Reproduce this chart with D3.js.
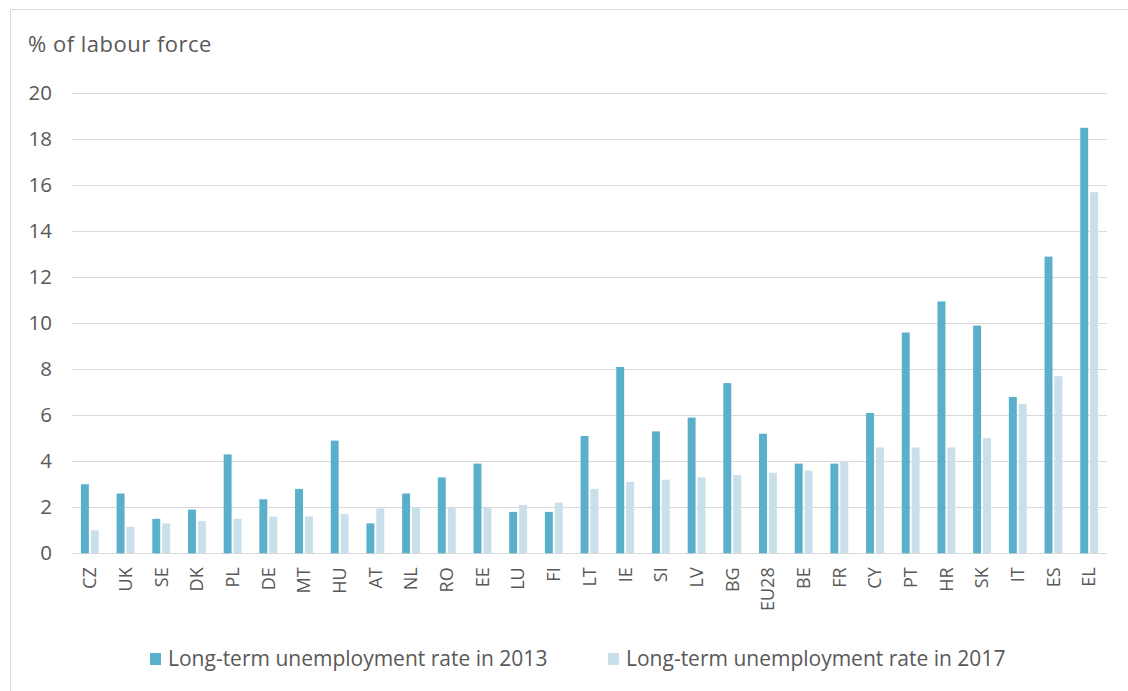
<!DOCTYPE html>
<html>
<head>
<meta charset="utf-8">
<script src="https://cdn.jsdelivr.net/npm/d3@7"></script>
<style>
html,body{margin:0;padding:0;background:#fff;}
svg{display:block;}
text{font-family:"Open Sans","Noto Sans",sans-serif;fill:#595959;}
</style>
</head>
<body>
<svg id="chart" width="1128" height="691"></svg>
<script>
const categories = ["CZ","UK","SE","DK","PL","DE","MT","HU","AT","NL","RO","EE","LU","FI","LT","IE","SI","LV","BG","EU28","BE","FR","CY","PT","HR","SK","IT","ES","EL"];
const rate2013 = [3.0,2.6,1.5,1.9,4.3,2.35,2.8,4.9,1.3,2.6,3.3,3.9,1.8,1.8,5.1,8.1,5.3,5.9,7.4,5.2,3.9,3.9,6.1,9.6,10.95,9.9,6.8,12.9,18.5];
const rate2017 = [1.0,1.15,1.3,1.4,1.5,1.6,1.6,1.7,1.95,2.0,2.0,2.0,2.1,2.2,2.8,3.1,3.2,3.3,3.4,3.5,3.6,4.0,4.6,4.6,4.6,5.0,6.5,7.7,15.7];
const seriesNames = ["Long-term unemployment rate in 2013","Long-term unemployment rate in 2017"];
const seriesColors = ["#5aafca","#c9dfe9"];
const yTicks = [0,2,4,6,8,10,12,14,16,18,20];
const yTitle = "% of labour force";

const svg = d3.select("#chart");

// outer frame (top and left edges visible)
svg.append("path")
  .attr("d","M10.5,691 V9.5 H1128")
  .attr("fill","none").attr("stroke","#d9d9d9").attr("stroke-width",1);

const plotLeft = 72, plotRight = 1107, plotTop = 93.3, plotBottom = 553.3;

const x0 = d3.scaleBand().domain(categories).range([plotLeft,plotRight]).paddingInner(0.5).paddingOuter(0.25);
const x1 = d3.scaleBand().domain([0,1]).range([0,x0.bandwidth()]).paddingInner(0.2);
const y = d3.scaleLinear().domain([0,20]).range([plotBottom,plotTop]);

// gridlines
svg.append("g").selectAll("line").data(yTicks).join("line")
  .attr("x1",plotLeft).attr("x2",plotRight)
  .attr("y1",d=>Math.round(y(d))+0.5).attr("y2",d=>Math.round(y(d))+0.5)
  .attr("stroke","#d9d9d9").attr("stroke-width",1);

// y axis labels
const yAxis = d3.axisLeft(y).tickValues(yTicks).tickSize(0).tickPadding(0);
const gy = svg.append("g").attr("transform",`translate(${plotLeft-20},0)`).call(yAxis);
gy.select(".domain").remove();
gy.selectAll("text").style("font-size","20.5px").attr("fill","#595959").style("font-family",'"Open Sans","Noto Sans",sans-serif');

// y title
svg.append("text").attr("x",28).attr("y",52).style("font-size","22px").style("letter-spacing","0.5px").text(yTitle);

// bars
const data = categories.map((c,i)=>({c, v:[rate2013[i],rate2017[i]]}));
const groups = svg.append("g").selectAll("g").data(data).join("g")
  .attr("transform",d=>`translate(${x0(d.c)},0)`);
groups.selectAll("rect").data(d=>d.v.map((v,k)=>({v,k}))).join("rect")
  .attr("x",d=>x1(d.k)).attr("width",x1.bandwidth())
  .attr("y",d=>y(d.v)).attr("height",d=>y(0)-y(d.v))
  .attr("fill",d=>seriesColors[d.k]);

// x axis labels (rotated)
const xAxis = d3.axisBottom(x0).tickSize(0).tickPadding(0);
const gx = svg.append("g").attr("transform",`translate(0,${plotBottom})`).call(xAxis);
gx.select(".domain").remove();
gx.selectAll("text")
  .style("font-size","18px").attr("fill","#595959").style("font-family",'"Open Sans","Noto Sans",sans-serif')
  .attr("text-anchor","end").attr("dy","0.35em").attr("dx",0).attr("y",0)
  .attr("transform","translate(0,14) rotate(-90)");

// legend
const legendX = [150,608];
const lg = svg.append("g").selectAll("g").data(seriesNames).join("g")
  .attr("transform",(d,i)=>`translate(${legendX[i]},653)`);
lg.append("rect").attr("width",11).attr("height",12).attr("fill",(d,i)=>seriesColors[i]);
lg.append("text").attr("x",18).attr("y",12.5).style("font-size","21px").text(d=>d);
</script>
</body>
</html>
